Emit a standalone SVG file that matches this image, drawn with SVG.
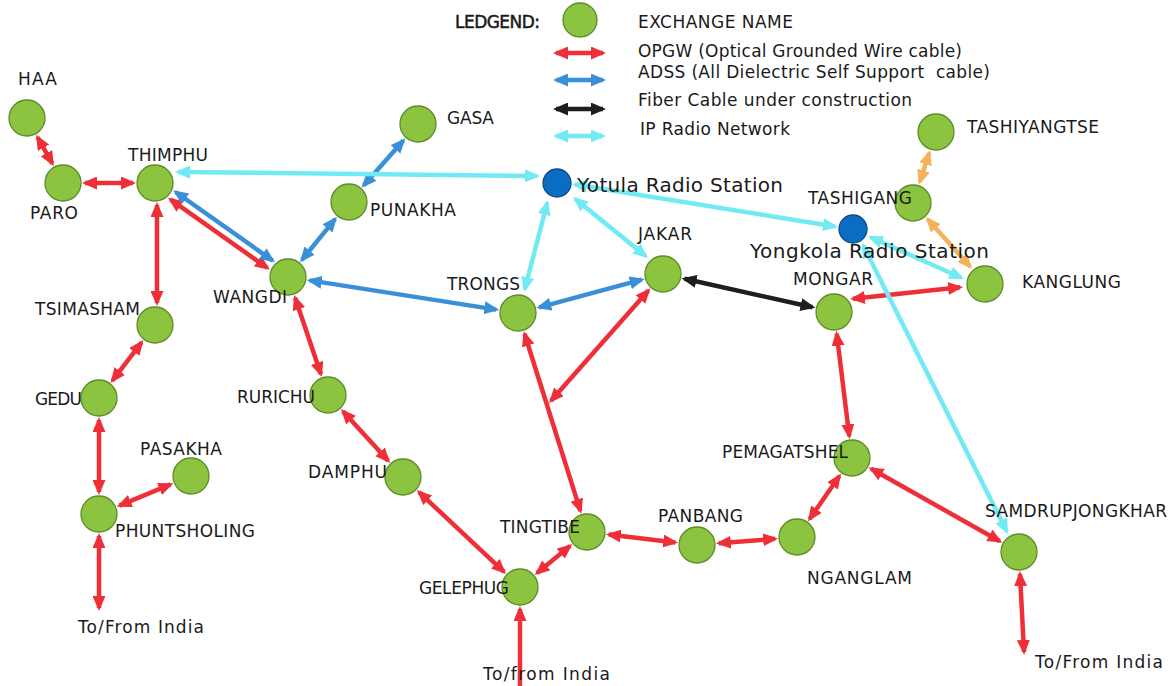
<svg xmlns="http://www.w3.org/2000/svg" width="1173" height="686" viewBox="0 0 1173 686">
  <style>
    .lbl { font-family: "DejaVu Sans", "Noto Sans", sans-serif; font-size: 17px; fill: #1a1a1a; }
    .big { font-family: "DejaVu Sans", "Noto Sans", sans-serif; font-size: 20px; fill: #1a1a1a; }
    .head { stroke: #1a1a1a; stroke-width: 0.5; }
    .ex { fill: #8cc43f; stroke: #5d8c2a; stroke-width: 1.3; }
    .radio { fill: #0b6cc4; stroke: #0a4a86; stroke-width: 1.3; }
    .opgw { stroke: #ef2f37; stroke-width: 4.5; fill: none; marker-start: url(#hRed); marker-end: url(#hRed); }
    .adss { stroke: #3b8fd8; stroke-width: 4.5; fill: none; marker-start: url(#hBlue); marker-end: url(#hBlue); }
    .build { stroke: #1e1e1e; stroke-width: 4.5; fill: none; marker-start: url(#hBlack); marker-end: url(#hBlack); }
    .orng { stroke: #f4b35a; stroke-width: 4.5; fill: none; marker-start: url(#hOrange); marker-end: url(#hOrange); }
    .ipr { stroke: #72eaf4; stroke-width: 4.5; fill: none; marker-start: url(#hCyan); marker-end: url(#hCyan); }
  </style>
  <defs>
    <marker id="hRed" viewBox="0 0 15 13" refX="12" refY="6.5" markerWidth="15" markerHeight="13" markerUnits="userSpaceOnUse" orient="auto-start-reverse">
      <path d="M0,0 L15,6.5 L0,13 Z" fill="#ef2f37"/>
    </marker>
    <marker id="hBlue" viewBox="0 0 15 13" refX="12" refY="6.5" markerWidth="15" markerHeight="13" markerUnits="userSpaceOnUse" orient="auto-start-reverse">
      <path d="M0,0 L15,6.5 L0,13 Z" fill="#3b8fd8"/>
    </marker>
    <marker id="hBlack" viewBox="0 0 15 13" refX="12" refY="6.5" markerWidth="15" markerHeight="13" markerUnits="userSpaceOnUse" orient="auto-start-reverse">
      <path d="M0,0 L15,6.5 L0,13 Z" fill="#1e1e1e"/>
    </marker>
    <marker id="hOrange" viewBox="0 0 15 13" refX="12" refY="6.5" markerWidth="15" markerHeight="13" markerUnits="userSpaceOnUse" orient="auto-start-reverse">
      <path d="M0,0 L15,6.5 L0,13 Z" fill="#f4b35a"/>
    </marker>
    <marker id="hCyan" viewBox="0 0 15 13" refX="12" refY="6.5" markerWidth="15" markerHeight="13" markerUnits="userSpaceOnUse" orient="auto-start-reverse">
      <path d="M0,0 L15,6.5 L0,13 Z" fill="#72eaf4"/>
    </marker>
  </defs>

  <rect width="1173" height="686" fill="#ffffff"/>

  <!-- legend -->
  <g id="legend">
    <text class="lbl head" x="455" y="28" textLength="85">LEDGEND:</text>
    <circle class="ex" cx="580" cy="20" r="17"/>
    <text class="lbl" x="638" y="28" textLength="155">EXCHANGE NAME</text>
    <line class="opgw" x1="556" y1="53" x2="603" y2="53"/>
    <text class="lbl" x="638" y="57" textLength="324">OPGW (Optical Grounded Wire cable)</text>
    <line class="adss" x1="556" y1="80" x2="603" y2="80"/>
    <text class="lbl" x="638" y="78" textLength="352" style="white-space:pre">ADSS (All Dielectric Self Support  cable)</text>
    <line class="build" x1="556" y1="109" x2="603" y2="109"/>
    <text class="lbl" x="638" y="106" textLength="274">Fiber Cable under construction</text>
    <line class="ipr" x1="556" y1="136" x2="603" y2="136"/>
    <text class="lbl" x="640" y="135" textLength="150">IP Radio Network</text>
  </g>

  <!-- links between exchanges -->
  <g id="connectors">
    <!-- OPGW -->
    <line class="opgw" x1="37.6" y1="137.3" x2="52.4" y2="163.7"/>
    <line class="opgw" x1="85" y1="183" x2="133" y2="183"/>
    <line class="opgw" x1="170.4" y1="199.4" x2="267.4" y2="268"/>
    <line class="opgw" x1="157" y1="205" x2="157" y2="303"/>
    <line class="opgw" x1="141.6" y1="342.4" x2="112.4" y2="380.6"/>
    <line class="opgw" x1="99" y1="420" x2="99" y2="492"/>
    <line class="opgw" x1="119.4" y1="505.6" x2="170.6" y2="484.4"/>
    <line class="opgw" x1="99" y1="536" x2="99" y2="608"/>
    <line class="opgw" x1="295.1" y1="297.8" x2="320.9" y2="374.2"/>
    <line class="opgw" x1="342.9" y1="411.2" x2="388.2" y2="460.8"/>
    <line class="opgw" x1="419" y1="492.1" x2="504" y2="571.9"/>
    <line class="opgw" x1="537" y1="573.1" x2="570" y2="545.9"/>
    <line stroke="#ef2f37" stroke-width="4.5" marker-start="url(#hRed)" x1="520" y1="609" x2="520" y2="686"/>
    <line class="opgw" x1="524.6" y1="334" x2="580.4" y2="511"/>
    <line class="opgw" x1="648.4" y1="290.5" x2="551" y2="400.8"/>
    <line class="opgw" x1="608.8" y1="534.6" x2="675.2" y2="542.4"/>
    <line class="opgw" x1="718.9" y1="543.2" x2="775.1" y2="538.8"/>
    <line class="opgw" x1="809.6" y1="519" x2="839.4" y2="476"/>
    <line class="opgw" x1="849.3" y1="436.2" x2="836.7" y2="333.8"/>
    <line class="opgw" x1="871.2" y1="468.8" x2="999.8" y2="541.2"/>
    <line class="opgw" x1="1020" y1="574" x2="1024" y2="652"/>
    <line class="opgw" x1="853" y1="298.7" x2="960" y2="287.3"/>
    <!-- ADSS -->
    <line class="adss" x1="175.6" y1="192" x2="272.6" y2="260.6"/>
    <line class="adss" x1="301.9" y1="259.9" x2="335.1" y2="219.1"/>
    <line class="adss" x1="363.6" y1="185.5" x2="403.4" y2="140.5"/>
    <line class="adss" x1="309.7" y1="280.4" x2="496.3" y2="309.6"/>
    <line class="adss" x1="539.2" y1="307.3" x2="641.8" y2="279.7"/>
    <!-- under construction -->
    <line class="build" x1="684.5" y1="278.8" x2="812.5" y2="307.2"/>
    <!-- eastern links -->
    <line class="orng" x1="919.8" y1="182.1" x2="929.2" y2="152.9"/>
    <line class="orng" x1="927.7" y1="219.3" x2="970.3" y2="266.7"/>
    <!-- IP radio -->
    <line class="ipr" x1="178" y1="172" x2="537" y2="176"/>
    <line class="ipr" x1="547.2" y1="202.9" x2="524.8" y2="289.1"/>
    <line class="ipr" x1="575.3" y1="198.9" x2="645.7" y2="256.1"/>
    <line class="ipr" x1="575" y1="184.5" x2="835" y2="226.5"/>
    <line class="ipr" x1="870.7" y1="237.2" x2="961.3" y2="277.8"/>
    <line class="ipr" x1="863.3" y1="245.7" x2="1006.7" y2="531.3"/>
  </g>

  <!-- exchanges -->
  <g id="node-haa"><circle class="ex" cx="27" cy="118" r="18"/><text class="lbl" x="18" y="85" textLength="39">HAA</text></g>
  <g id="node-paro"><circle class="ex" cx="63" cy="183" r="18"/><text class="lbl" x="30" y="219" textLength="48">PARO</text></g>
  <g id="node-thimphu"><circle class="ex" cx="155" cy="183" r="18"/><text class="lbl" x="128" y="161" textLength="80">THIMPHU</text></g>
  <g id="node-tsimasham"><circle class="ex" cx="155" cy="325" r="18"/><text class="lbl" x="35" y="315" textLength="105">TSIMASHAM</text></g>
  <g id="node-wangdi"><circle class="ex" cx="288" cy="277" r="18"/><text class="lbl" x="213" y="303" textLength="74">WANGDI</text></g>
  <g id="node-gasa"><circle class="ex" cx="418" cy="124" r="18"/><text class="lbl" x="447" y="124" textLength="47">GASA</text></g>
  <g id="node-punakha"><circle class="ex" cx="349" cy="202" r="18"/><text class="lbl" x="370" y="216" textLength="86">PUNAKHA</text></g>
  <g id="node-yotula"><circle class="radio" cx="557" cy="183" r="14"/><text class="big" x="577" y="192" textLength="206">Yotula Radio Station</text></g>
  <g id="node-trongsa"><circle class="ex" cx="518" cy="313" r="18"/><text class="lbl" x="447" y="290" textLength="73">TRONGS</text></g>
  <g id="node-jakar"><circle class="ex" cx="663" cy="274" r="18"/><text class="lbl" x="638" y="240" textLength="54">JAKAR</text></g>
  <g id="node-tashiyangtse"><circle class="ex" cx="936" cy="132" r="18"/><text class="lbl" x="967" y="133" textLength="132">TASHIYANGTSE</text></g>
  <g id="node-tashigang"><circle class="ex" cx="913" cy="203" r="18"/><text class="lbl" x="808" y="204" textLength="104">TASHIGANG</text></g>
  <g id="node-yongkola"><circle class="radio" cx="853" cy="229" r="14"/><text class="big" x="750" y="258" textLength="239">Yongkola Radio Station</text></g>
  <g id="node-mongar"><circle class="ex" cx="834" cy="312" r="18"/><text class="lbl" x="793" y="285" textLength="80">MONGAR</text></g>
  <g id="node-kanglung"><circle class="ex" cx="985" cy="284" r="18"/><text class="lbl" x="1022" y="288" textLength="99">KANGLUNG</text></g>
  <g id="node-gedu"><circle class="ex" cx="99" cy="398" r="18"/><text class="lbl" x="35" y="405" textLength="47">GEDU</text></g>
  <g id="node-rurichu"><circle class="ex" cx="328" cy="395" r="18"/><text class="lbl" x="237" y="403" textLength="78">RURICHU</text></g>
  <g id="node-pasakha"><circle class="ex" cx="191" cy="476" r="18"/><text class="lbl" x="140" y="455" textLength="82">PASAKHA</text></g>
  <g id="node-damphu"><circle class="ex" cx="403" cy="477" r="18"/><text class="lbl" x="308" y="478" textLength="79">DAMPHU</text></g>
  <g id="node-phuntsholing"><circle class="ex" cx="99" cy="514" r="18"/><text class="lbl" x="115" y="537" textLength="140">PHUNTSHOLING</text></g>
  <g id="node-tingtibe"><circle class="ex" cx="587" cy="532" r="18"/><text class="lbl" x="500" y="533" textLength="80">TINGTIBE</text></g>
  <g id="node-gelephug"><circle class="ex" cx="520" cy="587" r="18"/><text class="lbl" x="419" y="594" textLength="90">GELEPHUG</text></g>
  <g id="node-panbang"><circle class="ex" cx="697" cy="545" r="18"/><text class="lbl" x="658" y="522" textLength="85">PANBANG</text></g>
  <g id="node-nganglam"><circle class="ex" cx="797" cy="537" r="18"/><text class="lbl" x="807" y="584" textLength="105">NGANGLAM</text></g>
  <g id="node-pemagatshel"><circle class="ex" cx="852" cy="458" r="18"/><text class="lbl" x="722" y="458" textLength="126">PEMAGATSHEL</text></g>
  <g id="node-samdrupjongkhar"><circle class="ex" cx="1019" cy="552" r="18"/><text class="lbl" x="985" y="517" textLength="182">SAMDRUPJONGKHAR</text></g>

  <!-- border exits -->
  <g id="exit-west"><text class="lbl" x="78" y="633" textLength="126">To/From India</text></g>
  <g id="exit-south"><text class="lbl" x="483" y="680" textLength="127">To/from India</text></g>
  <g id="exit-east"><text class="lbl" x="1035" y="668" textLength="128">To/From India</text></g>
</svg>
